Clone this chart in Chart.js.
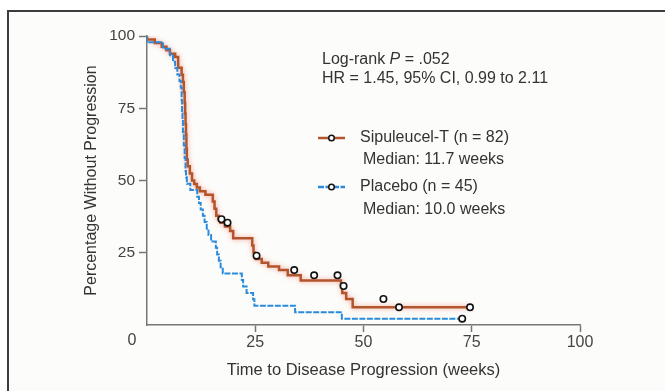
<!DOCTYPE html>
<html>
<head>
<meta charset="utf-8">
<script src="https://cdn.jsdelivr.net/npm/chart.js@4"></script>
<style>
  html, body { margin: 0; padding: 0; background: #fff; }
</style>
</head>
<body>
<canvas id="myChart" width="665" height="391"></canvas>
<script>
// Kaplan-Meier steps (weeks, % without progression)
var sipWeeks = [0, 1.8, 3.4, 4.5, 5.3, 6.5, 7.2, 8.0, 8.3, 8.5, 8.7, 8.8, 8.9, 9.0, 9.1, 9.2, 9.4, 9.9, 10.4, 10.9, 11.5, 12.2, 13.5, 15.2, 15.6, 16.0, 16.5, 17.0, 18.0, 19.2, 19.9, 24.3, 24.6, 24.9, 25.1, 26.5, 28.0, 30.5, 32.5, 35.5, 44.8, 45.1, 46.0, 47.5, 57.6, 74.6];
var sipPct = [100, 98.8, 97.6, 96.3, 95.1, 93.9, 92.7, 89.0, 86.6, 84.1, 80.5, 76.8, 73.2, 69.5, 65.9, 61.0, 57.3, 54.9, 52.4, 50.0, 48.8, 47.6, 46.3, 45.1, 42.7, 40.2, 37.8, 36.6, 35.4, 34.1, 32.5, 30.0, 27.5, 25.1, 24.0, 22.8, 21.5, 20.2, 19.0, 17.2, 15.4, 13.5, 11.1, 9.0, 6.1, 6.1];
var sipCensorWeeks = [17.2, 18.6, 25.3, 34.0, 38.6, 44.0, 45.4, 54.6, 58.2, 74.6];
var sipCensorPct = [36.6, 35.4, 24.0, 19.0, 17.2, 17.2, 13.5, 9.0, 6.1, 6.1];

var plcWeeks = [0, 3.7, 5.3, 6.0, 6.5, 7.0, 7.5, 7.8, 8.0, 8.1, 8.2, 8.3, 8.5, 8.7, 8.9, 9.0, 9.2, 10.0, 11.6, 12.0, 12.4, 12.9, 13.3, 13.8, 14.2, 14.8, 15.9, 16.2, 16.6, 17.0, 17.5, 21.9, 22.2, 23.0, 24.5, 24.8, 34.2, 45.0, 52.3, 72.8];
var plcPct = [100, 97.8, 95.6, 93.3, 91.1, 88.9, 86.7, 84.4, 82.2, 77.8, 73.3, 71.1, 66.7, 62.2, 57.8, 53.3, 51.1, 48.9, 46.7, 44.4, 42.2, 40.0, 37.8, 35.6, 33.3, 31.1, 28.9, 26.7, 24.4, 22.2, 20.0, 17.8, 15.6, 13.3, 11.1, 8.9, 6.7, 4.4, 2.2, 2.2];
var plcCensorWeeks = [72.8];
var plcCensorPct = [2.2];

var xTicks = [0, 25, 50, 75, 100];
var yTicks = [0, 25, 50, 75, 100];

var BROWN = '#b3552c';
var BLUE = '#2a8bdc';
var FONT = '"Liberation Sans", Arial, Helvetica, sans-serif';

function pts(xs, ys) {
    return xs.map(function (x, i) { return { x: x, y: ys[i] }; });
}

var framePlugin = {
    id: 'frame',
    beforeDraw: function (chart) {
        var c = chart.ctx;
        c.save();
        c.fillStyle = '#ffffff';
        c.fillRect(0, 0, chart.width, chart.height);
        c.fillStyle = '#fcfcfa';
        c.fillRect(8, 11, chart.width - 8, chart.height - 11);
        c.strokeStyle = '#3c3c3c';
        c.lineWidth = 2;
        c.beginPath();
        c.moveTo(8, chart.height);
        c.lineTo(8, 11);
        c.lineTo(chart.width, 11);
        c.stroke();
        c.restore();
    },
    beforeDatasetDraw: function (chart, args) {
        if (args.index === 0) {
            chart.ctx.save();
            chart.ctx.shadowColor = 'rgba(240,140,120,0.8)';
            chart.ctx.shadowBlur = 5;
        }
    },
    afterDatasetDraw: function (chart, args) {
        if (args.index === 0) chart.ctx.restore();
    },
    afterDraw: function (chart) {
        var c = chart.ctx;
        c.save();
        c.textBaseline = 'middle';

        // corner zero shared by both axes
        c.font = '16px ' + FONT;
        c.fillStyle = '#444';
        c.textAlign = 'center';
        c.fillText('0', 132, 341);

        // log-rank annotation
        c.textAlign = 'left';
        c.fillStyle = '#333';
        var x = 322, y = 60;
        c.font = '16px ' + FONT;
        c.fillText('Log-rank ', x, y);
        x += c.measureText('Log-rank ').width;
        c.font = 'italic 16px ' + FONT;
        c.fillText('P', x, y);
        x += c.measureText('P').width;
        c.font = '16px ' + FONT;
        c.fillText(' = .052', x, y);
        c.fillText('HR = 1.45, 95% CI, 0.99 to 2.11', 322, 79);

        // legend
        function sample(color, ly, dash) {
            c.save();
            c.strokeStyle = color;
            c.lineWidth = 2.5;
            if (dash) c.setLineDash(dash);
            c.beginPath();
            c.moveTo(318, ly);
            c.lineTo(345, ly);
            c.stroke();
            c.setLineDash([]);
            c.fillStyle = '#fff';
            c.strokeStyle = '#111';
            c.lineWidth = 1.5;
            c.beginPath();
            c.arc(331.5, ly, 2.8, 0, Math.PI * 2);
            c.fill();
            c.stroke();
            c.restore();
        }
        sample(BROWN, 138, null);
        c.fillText('Sipuleucel-T (n = 82)', 360, 138);
        c.fillText('Median: 11.7 weeks', 363, 160);
        sample(BLUE, 187, [6, 1.5]);
        c.fillText('Placebo (n = 45)', 360, 187);
        c.fillText('Median: 10.0 weeks', 363, 210);
        c.restore();
    }
};

var ctx = document.getElementById('myChart').getContext('2d');
var myChart = new Chart(ctx, {
    type: 'scatter',
    data: {
        datasets: [
            {
                label: 'Sipuleucel-T (n = 82)',
                data: pts(sipWeeks, sipPct),
                showLine: true,
                stepped: 'after',
                borderColor: BROWN,
                borderWidth: 2.5,
                pointRadius: 0,
                order: 4
            },
            {
                label: 'Placebo (n = 45)',
                data: pts(plcWeeks, plcPct),
                showLine: true,
                stepped: 'after',
                borderColor: BLUE,
                borderWidth: 2,
                borderDash: [6, 1.5],
                pointRadius: 0,
                order: 3
            },
            {
                label: 'Sipuleucel-T censored',
                data: pts(sipCensorWeeks, sipCensorPct),
                showLine: false,
                pointRadius: 3.2,
                pointBorderWidth: 1.6,
                pointBorderColor: '#111',
                pointBackgroundColor: '#fff',
                order: 2
            },
            {
                label: 'Placebo censored',
                data: pts(plcCensorWeeks, plcCensorPct),
                showLine: false,
                pointRadius: 3.2,
                pointBorderWidth: 1.6,
                pointBorderColor: '#111',
                pointBackgroundColor: '#fff',
                order: 1
            }
        ]
    },
    options: {
        responsive: false,
        animation: false,
        devicePixelRatio: 1,
        layout: { padding: { left: 0, top: 36, right: 85, bottom: 0 } },
        plugins: {
            legend: { display: false },
            tooltip: { enabled: false }
        },
        scales: {
            x: {
                type: 'linear',
                min: 0,
                max: 100,
                afterBuildTicks: function (scale) {
                    scale.ticks = xTicks.map(function (v) { return { value: v }; });
                },
                afterFit: function (scale) { scale.height = 66; },
                grid: {
                    drawOnChartArea: false,
                    tickLength: 7,
                    tickWidth: 1.5,
                    tickColor: function (c) { return c.tick && c.tick.value === 0 ? 'rgba(0,0,0,0)' : '#777'; }
                },
                border: { color: '#777', width: 1.5 },
                ticks: {
                    padding: 1,
                    color: '#444',
                    font: { family: FONT, size: 16 },
                    callback: function (v) { return v === 0 ? '' : v; }
                },
                title: {
                    display: true,
                    text: 'Time to Disease Progression (weeks)',
                    color: '#333',
                    font: { family: FONT, size: 16.5 },
                    padding: { top: 0, bottom: 11 }
                }
            },
            y: {
                min: 0,
                max: 100,
                afterBuildTicks: function (scale) {
                    scale.ticks = yTicks.map(function (v) { return { value: v }; });
                },
                afterFit: function (scale) { scale.width = 147; },
                grid: {
                    drawOnChartArea: false,
                    tickLength: 8,
                    tickWidth: 1.5,
                    tickColor: function (c) { return c.tick && c.tick.value === 0 ? 'rgba(0,0,0,0)' : '#777'; }
                },
                border: { color: '#777', width: 1.5 },
                ticks: {
                    padding: 4,
                    color: '#444',
                    font: { family: FONT, size: 15.5 },
                    callback: function (v) { return v === 0 ? '' : v; }
                },
                title: {
                    display: true,
                    text: 'Percentage Without Progression',
                    color: '#333',
                    font: { family: FONT, size: 16 },
                    padding: { top: 82, bottom: 0 }
                }
            }
        }
    },
    plugins: [framePlugin]
});
</script>
</body>
</html>
